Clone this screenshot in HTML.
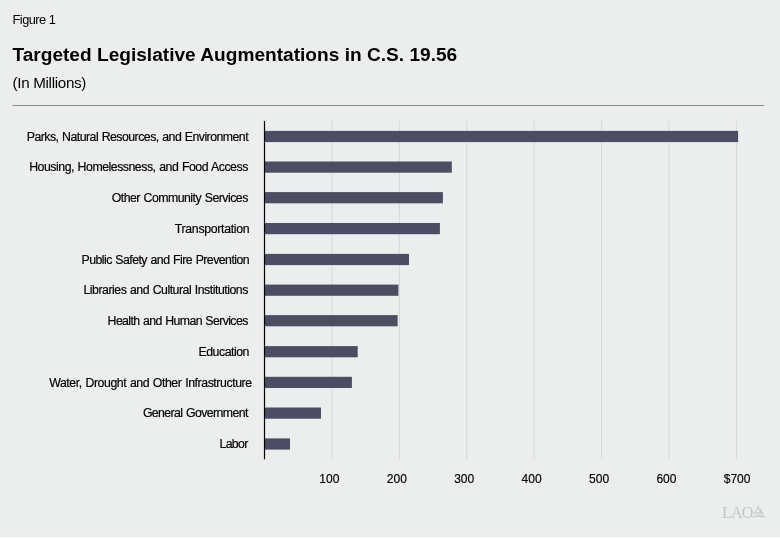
<!DOCTYPE html>
<html><head><meta charset="utf-8"><title>Figure 1</title>
<style>
html,body{margin:0;padding:0;background:#eceeed;}
body{width:780px;height:539px;overflow:hidden;position:relative;}
svg{display:block;position:absolute;left:0;top:0;}
text{font-family:"Liberation Sans",sans-serif;fill:#000;}
.lab{font-size:12.3px;word-spacing:0.7px;stroke:#000;stroke-width:0.18px;}
.tick{font-size:12.05px;stroke:#000;stroke-width:0.15px;}
</style></head><body>
<svg width="780" height="539" viewBox="0 0 780 539">
<rect x="0" y="0" width="780" height="539" fill="#eceeed"/>
<rect x="0" y="537.5" width="780" height="1.5" fill="#ffffff"/>
<text x="12.5" y="23.9" font-size="12.8" textLength="43.4" lengthAdjust="spacing">Figure 1</text>
<text x="12.4" y="61.45" font-size="19.1" font-weight="bold" textLength="444.8" lengthAdjust="spacing">Targeted Legislative Augmentations in C.S. 19.56</text>
<text x="12.5" y="88.4" font-size="15.2" textLength="73.9" lengthAdjust="spacing">(In Millions)</text>
<rect x="12.7" y="105" width="751.5" height="1" fill="#8a8a8a"/>

<rect x="331.41" y="121" width="1" height="338.3" fill="#d5d7da"/>
<rect x="398.83" y="121" width="1" height="338.3" fill="#d5d7da"/>
<rect x="466.24" y="121" width="1" height="338.3" fill="#d5d7da"/>
<rect x="533.66" y="121" width="1" height="338.3" fill="#d5d7da"/>
<rect x="601.07" y="121" width="1" height="338.3" fill="#d5d7da"/>
<rect x="668.49" y="121" width="1" height="338.3" fill="#d5d7da"/>
<rect x="735.90" y="121" width="1" height="338.3" fill="#d5d7da"/>
<rect x="264.50" y="130.90" width="473.60" height="11.2" fill="#4c4d62"/>
<rect x="264.50" y="161.50" width="187.30" height="11.2" fill="#4c4d62"/>
<rect x="264.50" y="192.10" width="178.40" height="11.2" fill="#4c4d62"/>
<rect x="264.50" y="223.00" width="175.40" height="11.2" fill="#4c4d62"/>
<rect x="264.50" y="253.90" width="144.50" height="11.2" fill="#4c4d62"/>
<rect x="264.50" y="284.60" width="133.90" height="11.2" fill="#4c4d62"/>
<rect x="264.50" y="315.10" width="133.10" height="11.2" fill="#4c4d62"/>
<rect x="264.50" y="346.10" width="93.20" height="11.2" fill="#4c4d62"/>
<rect x="264.50" y="376.80" width="87.40" height="11.2" fill="#4c4d62"/>
<rect x="264.50" y="407.50" width="56.50" height="11.2" fill="#4c4d62"/>
<rect x="264.50" y="438.40" width="25.50" height="11.2" fill="#4c4d62"/>
<rect x="263.90" y="121" width="1.2" height="338.3" fill="#000"/>
<text class="lab" x="26.80" y="140.65" textLength="221.80" lengthAdjust="spacing">Parks, Natural Resources, and Environment</text>
<text class="lab" x="29.20" y="171.25" textLength="219.10" lengthAdjust="spacing">Housing, Homelessness, and Food Access</text>
<text class="lab" x="111.70" y="201.85" textLength="136.60" lengthAdjust="spacing">Other Community Services</text>
<text class="lab" x="174.80" y="232.75" textLength="74.80" lengthAdjust="spacing">Transportation</text>
<text class="lab" x="81.50" y="263.65" textLength="168.10" lengthAdjust="spacing">Public Safety and Fire Prevention</text>
<text class="lab" x="83.50" y="294.35" textLength="164.80" lengthAdjust="spacing">Libraries and Cultural Institutions</text>
<text class="lab" x="107.60" y="324.85" textLength="140.70" lengthAdjust="spacing">Health and Human Services</text>
<text class="lab" x="198.50" y="355.85" textLength="50.90" lengthAdjust="spacing">Education</text>
<text class="lab" x="49.20" y="386.55" textLength="202.90" lengthAdjust="spacing">Water, Drought and Other Infrastructure</text>
<text class="lab" x="142.90" y="417.25" textLength="105.40" lengthAdjust="spacing">General Government</text>
<text class="lab" x="219.50" y="448.15" textLength="28.80" lengthAdjust="spacing">Labor</text>
<text class="tick" x="329.41" y="482.8" text-anchor="middle">100</text>
<text class="tick" x="396.83" y="482.8" text-anchor="middle">200</text>
<text class="tick" x="464.24" y="482.8" text-anchor="middle">300</text>
<text class="tick" x="531.66" y="482.8" text-anchor="middle">400</text>
<text class="tick" x="599.07" y="482.8" text-anchor="middle">500</text>
<text class="tick" x="666.49" y="482.8" text-anchor="middle">600</text>
<text class="tick" x="737.10" y="482.8" text-anchor="middle">$700</text>
<text x="722" y="517.7" font-size="16.3" style="font-family:'Liberation Serif',serif;fill:#c3c5c9" textLength="31.4" lengthAdjust="spacing">LAO</text>
<g fill="#c2c4c8" stroke="none">
<rect x="757.2" y="505.7" width="1.6" height="2.4" opacity="0.85"/>
<path d="M754.9 512.6 C755.3 510 756.7 508.2 758.2 508.2 C760.5 508.2 762.2 510.2 762.8 512.6 L761.2 512.6 C760.6 510.6 759.5 509.4 758 509.2 C756.9 509.6 756.2 511 756 512.6 Z" opacity="0.8"/>
<path d="M758.4 508.6 C760.4 508.8 761.8 510.4 762.4 512.6 L759.2 512.6 C759.4 511 759.2 509.6 758.4 508.6 Z" opacity="0.6"/>
<rect x="753.9" y="512.4" width="9.6" height="1.0"/>
<path d="M757 514.1 H763.4 L764 515.5 H756.4 Z" opacity="0.45"/>
<path d="M754.4 514.3 H756.6 V515.3 H754 Z" opacity="0.25"/>
<path d="M751.8 517.7 C755 516.3 761 516.3 765.4 517.7 L765.2 516.6 C761 515.5 755 515.6 752.4 516.7 Z"/>
</g>
</svg></body></html>
